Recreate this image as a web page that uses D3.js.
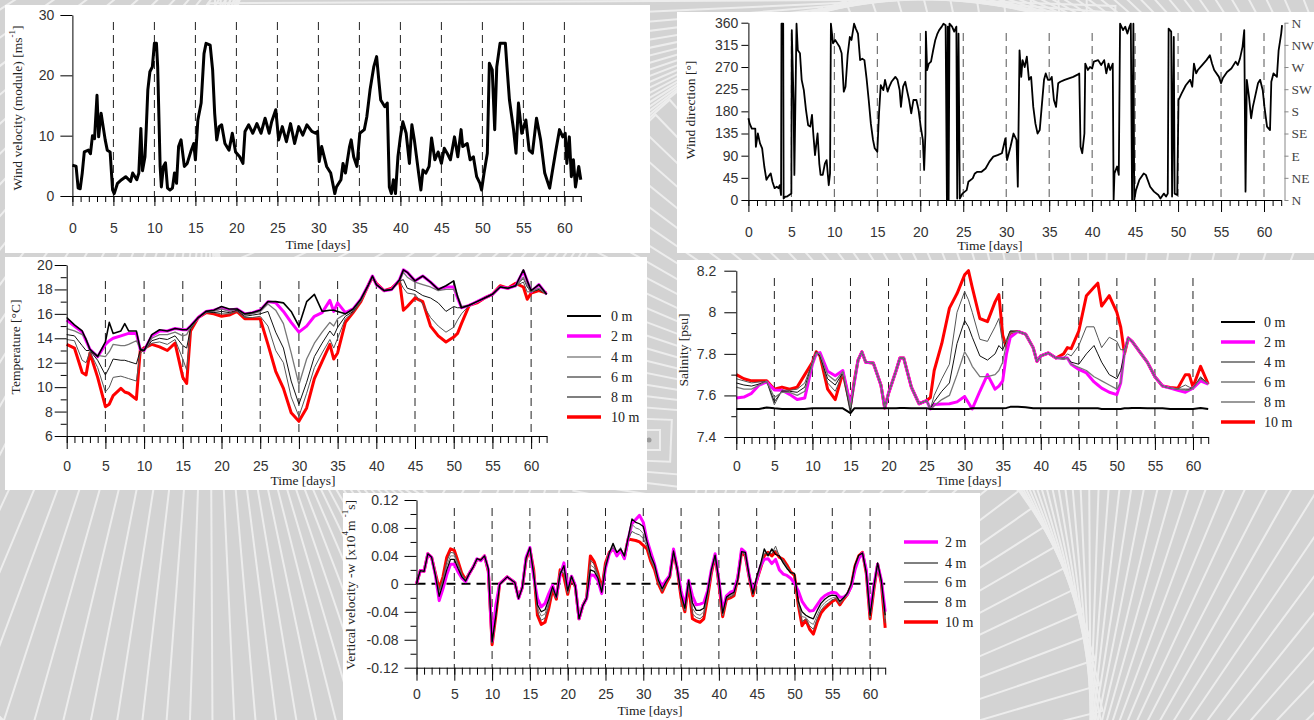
<!DOCTYPE html>
<html>
<head>
<meta charset="utf-8">
<script src="https://cdn.jsdelivr.net/npm/d3@7"></script>
<style>
  body { margin: 0; background: #d3d3d3; overflow: hidden; }
  svg { display: block; }
</style>
</head>
<body>
<svg id="fig" width="1314" height="720"></svg>
<script>
// ---------------- data ----------------
const dashDays = [5, 10, 15, 20, 25, 30, 35, 40, 45, 50, 55, 60];
const xLabelDays = [0, 5, 10, 15, 20, 25, 30, 35, 40, 45, 50, 55, 60];
const dayTicks = d3.range(0, 63);

// wind speed module [m/s]
const windT = [
  0,0.3,0.45,0.7,0.95,1.2,1.45,1.95,2.2,2.45,
  2.7,3.0,3.2,3.5,3.75,4.0,4.25,4.6,4.9,5.1,
  5.5,6.0,6.5,7.1,7.35,7.85,8.1,8.35,8.55,8.85,
  9.0,9.2,9.45,9.75,10.0,10.25,10.4,10.7,10.85,11.1,
  11.35,11.6,11.9,12.2,12.45,12.7,12.95,13.25,13.65,14.0,
  14.5,14.8,15.0,15.3,15.7,16.05,16.3,16.8,17.1,17.35,
  17.6,17.9,18.2,18.6,19.1,19.5,19.9,20.4,20.8,21.05,
  21.5,22.0,22.5,23.0,23.5,24.0,24.3,24.8,25.15,25.6,
  26.1,26.6,27.1,27.6,28.1,28.6,29.2,29.7,29.9,30.1,
  30.4,31.0,31.5,32.0,32.2,32.75,33.0,33.3,33.8,34.0,
  34.3,34.7,35.05,35.6,35.9,36.3,36.75,37.1,37.4,37.6,
  38.1,38.4,38.65,38.9,39.15,39.4,39.7,40.0,40.3,40.7,
  41.1,41.4,41.7,42.25,42.5,42.75,43.1,43.5,43.8,44.2,
  44.6,45.0,45.35,45.7,46.1,46.6,47.0,47.4,47.6,48.15,
  48.5,48.9,49.3,49.7,49.9,50.2,50.6,50.85,51.2,51.5,
  51.75,52.15,52.8,53.0,53.3,53.8,54.1,54.4,54.8,55.3,
  55.7,56.1,56.6,57.1,57.6,58.2,58.5,58.9,59.4,59.8,
  60.1,60.3,60.6,60.85,61.1,61.35,61.75,62.0];
const windV = [
  5.1,5.0,4.9,1.3,1.2,3.8,7.3,7.6,7.0,10.0,
  9.5,16.7,9.8,13.7,11.5,9.3,7.6,7.3,1.0,0.4,
  2.1,2.7,3.2,2.4,3.8,2.7,3.8,11.2,4.2,6.5,
  11.0,17.6,20.6,21.4,25.3,25.3,21.4,4.9,1.5,4.9,
  5.5,1.3,1.0,1.3,3.8,2.1,8.2,9.3,4.9,5.4,
  7.6,8.7,6.0,12.6,15.4,23.6,25.3,25.0,20.9,13.7,
  9.3,11.5,11.8,8.7,7.6,10.4,7.3,6.5,5.4,10.7,
  11.8,10.4,12.0,10.4,12.9,10.4,12.3,14.3,9.3,11.5,
  9.0,12.0,8.7,11.5,10.1,11.8,10.7,10.4,10.7,5.7,
  8.2,4.9,3.8,0.4,1.5,2.7,5.4,3.8,8.2,9.3,
  6.5,4.9,10.4,11.0,13.1,17.6,21.4,23.1,18.7,15.9,
  14.8,15.4,1.5,0.4,2.7,0.4,6.5,9.8,12.3,10.4,
  5.4,11.8,9.3,3.5,1.0,4.3,3.8,4.9,9.6,6.0,
  7.3,5.4,7.9,7.1,6.0,9.8,6.5,11.0,8.2,8.7,
  6.0,6.5,3.2,2.1,1.0,3.8,7.1,22.0,20.9,11.0,
  21.4,25.3,25.3,21.4,15.9,11.0,7.1,15.4,10.4,12.6,
  7.6,7.1,12.9,9.3,3.8,1.3,3.8,7.1,11.0,9.8,
  10.4,5.4,9.8,3.2,6.0,1.5,4.9,2.7];

// wind direction [deg]
const dirT = [
  0,0.15,0.4,0.8,0.87,1.1,1.35,1.6,1.85,2.1,
  2.3,2.6,2.8,3.05,3.3,3.5,3.65,3.8,3.85,4.05,
  4.1,4.3,4.5,4.75,5.0,5.05,5.25,5.35,5.6,5.75,
  6.0,6.2,6.45,6.7,6.95,7.2,7.4,7.55,7.75,8.05,
  8.25,8.4,8.65,8.9,9.1,9.35,9.5,9.6,9.85,10.1,
  10.35,10.6,10.85,11.1,11.3,11.55,11.8,12.0,12.3,12.5,
  12.75,13.0,13.25,13.5,13.75,14.0,14.25,14.5,14.7,15.0,
  15.2,15.4,15.7,15.9,16.2,16.4,16.65,17.1,17.35,17.6,
  17.75,18.0,18.25,18.45,18.7,18.95,19.2,19.55,19.8,20.05,
  20.3,20.45,20.6,20.65,20.8,21.0,21.25,21.5,21.75,22.0,
  22.2,22.5,22.7,22.95,23.1,23.2,23.3,23.4,23.7,23.95,
  24.2,24.3,24.45,24.6,24.9,25.4,25.6,26.1,26.35,26.6,
  27.1,27.6,28.05,28.5,29.0,29.5,29.9,30.1,30.5,30.85,
  31.2,31.35,31.55,31.75,31.9,32.15,32.4,32.65,32.9,33.15,
  33.4,33.65,33.9,34.1,34.4,34.6,34.85,35.1,35.3,35.55,
  35.8,36.05,36.3,36.8,37.3,37.8,38.25,38.5,38.65,38.85,
  39.1,39.2,39.5,39.75,40.0,40.2,40.7,41.05,41.4,41.65,
  41.9,42.1,42.4,42.5,42.6,42.9,43.1,43.25,43.6,43.85,
  44.1,44.35,44.5,44.65,44.8,44.9,45.1,45.5,46.0,46.25,
  46.75,47.2,47.7,47.95,48.35,48.6,48.8,48.9,49.2,49.3,
  49.5,49.6,49.9,50.05,50.4,50.9,51.4,51.65,51.85,52.1,
  52.3,52.8,53.3,53.7,53.95,54.2,54.75,55.0,55.2,55.7,
  56.2,56.7,56.95,57.2,57.5,57.7,57.85,58.0,58.25,58.5,
  58.7,59.0,59.3,59.55,59.85,60.05,60.35,60.7,60.85,61.1,
  61.5,61.7,62.0,62.1];
const dirV = [
  166,155,145,145,108,135,115,105,68,41,
  47,54,37,24,27,24,30,10,358,358,
  3,7,7,10,13,345,203,51,358,304,
  298,244,223,183,152,149,173,135,91,135,
  74,51,51,74,81,30,54,358,318,325,
  318,311,298,220,230,294,331,325,358,348,
  338,284,287,284,247,203,155,122,105,98,
  176,233,223,244,220,230,240,250,244,223,
  189,230,240,223,203,176,203,203,183,149,
  122,61,135,342,264,277,281,304,325,338,
  345,352,358,355,0,352,0,358,352,342,
  352,3,338,3,13,20,37,44,54,57,
  57,64,78,88,91,95,125,81,108,135,
  122,27,304,250,284,270,291,244,250,189,
  155,135,142,183,244,257,244,244,250,203,
  189,237,240,244,247,250,254,257,108,95,
  135,277,264,270,267,281,284,274,284,257,
  277,264,277,0,54,68,51,358,345,352,
  338,352,358,0,358,0,20,41,54,51,
  27,17,10,3,13,7,13,348,342,7,
  331,13,10,203,216,233,244,230,277,257,
  264,274,284,294,277,264,250,237,247,260,
  267,281,274,287,311,345,17,244,210,166,
  189,213,237,244,223,189,149,142,240,257,
  250,304,338,355];

// temperature [degC]
const tempDays = [
  0,1,2,2.5,3,4,5,5.5,
  6,7,7.5,8,9,9.5,10,
  11,12,13,14,15,15.5,16,
  17,18,19,20,21,22,23,24,25,
  26,27,28,29,30,31,32,33,34,34.5,
  35,36,37,38,39,39.5,40,41,42,43,
  43.5,44,45,46,47,48,49,50,50.5,51,
  52,53,54,55,56,57,58,59,59.5,60,61,62];
const temp0 = [
  15.7,15.1,14.6,13.9,13.1,12.5,13.7,15.3,
  14.4,14.6,15.2,14.6,14.6,13.1,13.0,
  14.3,14.7,14.6,14.8,14.7,14.7,15.0,
  15.7,16.2,16.3,16.6,16.4,16.4,16.0,16.1,16.3,
  17.0,17.0,16.9,16.2,15.0,17.0,17.6,16.2,16.3,16.3,
  16.2,16.0,16.4,17.2,18.4,19.1,18.4,17.9,18.0,18.8,
  19.6,19.4,18.7,19.1,18.6,18.0,18.3,18.7,17.4,16.5,
  16.7,17.0,17.3,17.6,18.2,18.1,18.3,19.6,18.7,17.9,18.4,17.6];
const temp2 = [
  15.5,15.0,14.5,13.8,13.1,12.5,13.5,13.8,
  14.0,14.2,14.3,14.4,14.4,13.1,13.0,
  14.2,14.6,14.6,14.8,14.7,14.7,15.0,
  15.7,16.2,16.3,16.5,16.3,16.4,16.0,16.1,16.3,
  17.0,16.9,16.2,15.3,14.5,15.0,15.8,16.1,17.1,16.2,
  16.9,16.1,16.4,17.2,18.4,19.1,18.4,17.9,18.0,18.8,
  19.6,19.4,18.7,19.1,18.6,18.0,18.2,18.2,17.3,16.5,
  16.7,17.0,17.3,17.6,18.2,18.1,18.3,19.5,18.7,17.8,18.4,17.6];
const temp4 = [
  14.8,14.6,14.3,14.0,13.0,12.6,12.5,12.9,
  13.5,13.4,13.4,13.5,13.8,13.2,13.0,
  14.0,14.3,14.3,14.5,14.2,14.3,14.9,
  15.7,16.2,16.2,16.4,16.2,16.4,15.9,16.0,16.2,
  16.8,16.3,15.2,12.8,10.2,12.3,13.6,14.5,15.3,15.0,
  15.6,16.0,16.3,17.1,18.4,19.0,18.4,17.9,18.0,18.7,
  19.4,19.0,18.6,18.4,18.2,17.9,18.0,18.0,17.5,16.6,
  16.7,17.0,17.3,17.6,18.2,18.1,18.3,19.0,18.3,17.8,18.1,17.6];
const temp6 = [
  14.3,14.2,13.4,13.0,13.0,12.2,11.0,11.6,
  12.3,12.2,12.2,12.1,11.9,13.0,13.0,
  13.8,14.0,13.9,14.2,13.4,13.2,14.8,
  15.7,16.2,16.1,16.2,16.1,16.3,15.8,15.9,16.0,
  16.2,14.5,13.2,10.5,8.6,10.4,12.5,13.6,14.6,14.2,
  14.9,15.8,16.2,17.1,18.4,19.0,18.4,17.9,18.0,18.7,
  18.8,18.1,17.9,17.5,17.3,16.9,16.2,16.6,16.5,16.5,
  16.7,17.0,17.3,17.6,18.2,18.1,18.3,18.9,18.2,17.8,18.0,17.6];
const temp8 = [
  13.9,13.8,12.2,12.0,12.9,11.6,9.6,10.0,
  10.8,10.9,10.8,10.7,10.5,12.8,13.0,
  13.6,13.7,13.5,13.9,12.3,11.4,14.7,
  15.7,16.1,16.1,16.0,16.0,16.2,15.7,15.7,15.8,
  15.0,13.0,12.0,9.2,7.6,9.5,11.6,12.8,13.9,13.2,
  14.0,15.6,16.1,17.0,18.4,19.0,18.4,17.9,18.0,18.7,
  18.1,17.7,17.6,16.8,15.7,15.0,14.5,14.9,15.5,16.0,
  16.7,17.0,17.3,17.6,18.2,18.1,18.3,18.6,17.8,17.8,18.0,17.6];
const temp10 = [
  13.5,13.2,11.2,11.0,12.8,10.8,8.4,8.6,
  9.3,9.9,9.6,9.5,9.0,13.0,13.2,
  13.5,13.3,13.0,13.6,10.8,10.3,14.6,
  15.7,16.1,16.0,15.8,15.9,16.2,15.6,15.6,15.6,
  13.5,11.3,9.9,7.9,7.2,8.3,10.7,12.1,13.5,12.3,
  12.8,15.3,16.1,17.0,18.4,19.0,18.5,17.9,18.1,18.7,
  16.3,16.6,17.3,17.0,15.0,14.2,13.7,14.1,14.4,15.2,
  16.7,16.9,17.3,17.6,18.3,18.1,18.5,18.2,17.2,17.7,17.9,17.7];

// salinity [psu]
const saltDays = [
  0,1,2,3,4,5,6,7,8,9,
  10,10.5,11,12,13,14,15,15.5,16,16.5,
  17,18,19,19.5,20,21,21.5,22,23,24,
  25,25.5,26,27,28,29,30,30.5,31,32,
  33,34,34.5,35,35.5,36,37,38,39,39.5,
  40,41,42,43,43.5,44,45,46,47,47.5,
  48,49,50,50.5,51,51.5,52,53,54,55,
  56,57,58,59,59.5,60,61,62];
const salt0 = [
  7.535,7.535,7.535,7.535,7.542,7.538,7.535,7.535,7.535,7.535,
  7.538,7.538,7.538,7.538,7.538,7.538,7.515,7.538,7.538,7.538,
  7.538,7.538,7.538,7.538,7.538,7.538,7.54,7.54,7.538,7.538,
  7.538,7.535,7.535,7.535,7.535,7.535,7.535,7.535,7.538,7.538,
  7.538,7.538,7.538,7.538,7.54,7.545,7.545,7.543,7.538,7.538,
  7.538,7.538,7.538,7.538,7.538,7.538,7.538,7.538,7.538,7.538,
  7.535,7.535,7.535,7.535,7.538,7.538,7.54,7.54,7.538,7.538,
  7.538,7.535,7.535,7.535,7.535,7.535,7.54,7.535];
const salt2 = [
  7.588,7.592,7.61,7.65,7.665,7.626,7.625,7.605,7.58,7.588,
  7.75,7.80,7.806,7.716,7.695,7.72,7.555,7.66,7.77,7.81,
  7.76,7.756,7.65,7.54,7.61,7.72,7.78,7.78,7.64,7.56,
  7.575,7.535,7.556,7.559,7.56,7.569,7.595,7.565,7.535,7.62,
  7.70,7.63,7.645,7.67,7.80,7.88,7.908,7.895,7.83,7.764,
  7.79,7.804,7.78,7.78,7.78,7.75,7.725,7.708,7.665,7.65,
  7.635,7.615,7.604,7.66,7.81,7.876,7.86,7.81,7.76,7.69,
  7.645,7.635,7.625,7.615,7.625,7.635,7.67,7.655];
const salt4 = [
  7.64,7.63,7.63,7.65,7.668,7.59,7.615,7.615,7.60,7.62,
  7.75,7.805,7.80,7.70,7.67,7.715,7.545,7.66,7.77,7.81,
  7.76,7.756,7.65,7.54,7.61,7.72,7.78,7.78,7.64,7.56,
  7.575,7.535,7.55,7.58,7.60,7.70,7.81,7.78,7.74,7.69,
  7.69,7.70,7.72,7.76,7.85,7.90,7.908,7.895,7.83,7.764,
  7.79,7.804,7.78,7.775,7.78,7.75,7.735,7.72,7.69,7.68,
  7.67,7.65,7.63,7.66,7.80,7.876,7.86,7.81,7.76,7.69,
  7.645,7.635,7.63,7.625,7.625,7.635,7.68,7.655];
const salt6 = [
  7.66,7.65,7.645,7.655,7.668,7.57,7.62,7.62,7.615,7.64,
  7.755,7.81,7.79,7.68,7.65,7.71,7.525,7.66,7.77,7.81,
  7.76,7.756,7.65,7.54,7.61,7.72,7.78,7.78,7.64,7.56,
  7.575,7.535,7.57,7.62,7.66,7.85,7.96,7.93,7.88,7.79,
  7.77,7.80,7.84,7.82,7.86,7.91,7.908,7.895,7.83,7.764,
  7.79,7.804,7.78,7.775,7.78,7.76,7.75,7.80,7.84,7.80,
  7.76,7.70,7.68,7.72,7.80,7.876,7.86,7.81,7.76,7.69,
  7.645,7.635,7.63,7.63,7.63,7.635,7.685,7.655];
const salt8 = [
  7.68,7.67,7.66,7.665,7.668,7.555,7.625,7.625,7.63,7.66,
  7.76,7.81,7.785,7.66,7.62,7.705,7.51,7.665,7.77,7.81,
  7.76,7.756,7.65,7.54,7.61,7.72,7.78,7.78,7.64,7.56,
  7.575,7.535,7.60,7.68,7.75,8.00,8.10,8.06,8.00,7.87,
  7.86,7.93,7.97,7.85,7.87,7.91,7.908,7.895,7.83,7.764,
  7.79,7.804,7.78,7.78,7.80,7.79,7.84,7.93,7.93,7.88,
  7.83,7.88,7.86,7.82,7.82,7.876,7.86,7.81,7.76,7.69,
  7.645,7.635,7.632,7.65,7.64,7.635,7.69,7.655];
const salt10 = [
  7.70,7.68,7.67,7.67,7.67,7.63,7.64,7.63,7.64,7.70,
  7.76,7.81,7.79,7.63,7.58,7.71,7.55,7.67,7.77,7.81,
  7.76,7.756,7.65,7.54,7.61,7.72,7.78,7.78,7.64,7.56,
  7.575,7.59,7.72,7.85,8.02,8.09,8.18,8.20,8.12,7.97,
  7.955,8.05,8.085,7.89,7.83,7.90,7.908,7.895,7.83,7.764,
  7.79,7.804,7.78,7.80,7.83,7.825,7.91,8.08,8.12,8.14,
  8.03,8.08,8.00,7.93,7.80,7.876,7.86,7.81,7.76,7.69,
  7.645,7.638,7.634,7.70,7.70,7.64,7.74,7.655];

// vertical velocity -w [x10^4 m-1 s]
const wDays = [
  0,0.5,1,1.5,2,2.5,3,3.5,4,4.5,
  5,5.5,6,6.5,7,7.5,8,8.5,9,9.5,
  10,10.5,11,12,12.5,13,13.5,14,14.5,15,
  15.5,16,16.5,17,17.5,18,18.5,19,19.5,20,
  20.5,21,21.5,22,22.5,23,23.5,24,24.5,25,
  25.5,26,26.5,27,27.5,28,28.5,29,29.5,30,
  30.5,31,31.5,32,32.5,33,33.5,34,34.5,35,
  35.5,36,36.5,37,37.5,38,38.5,39,39.5,40,
  40.5,41,41.5,42,42.5,43,43.5,44,44.5,45,
  45.5,46,46.5,47,47.5,48,48.5,49,49.5,50,
  50.5,51,51.5,52,52.5,53,53.5,54,54.5,55,
  55.5,56,56.5,57,57.5,58,58.5,59,59.5,60,
  60.5,61,61.5,62];
const w2 = [
  0,0.019,0.018,0.043,0.038,0.012,-0.024,-0.007,0.013,0.028,
  0.028,0.017,0.008,0.003,0.015,0.024,0.036,0.033,0.040,0.020,
  -0.082,-0.030,0.000,0.010,0.006,0.002,-0.021,-0.005,0.038,0.052,
  0.010,-0.021,-0.033,-0.028,-0.014,-0.002,-0.018,0.012,0.030,-0.008,
  0.011,-0.002,-0.050,-0.031,-0.021,0.013,0.012,0.005,-0.014,0.022,
  0.043,0.052,0.040,0.048,0.036,0.064,0.086,0.092,0.098,0.088,
  0.062,0.045,0.028,0.007,-0.004,0.005,0.012,0.050,0.022,-0.010,
  -0.031,0.005,-0.017,-0.030,-0.029,-0.027,-0.010,0.020,0.043,0.005,
  -0.038,-0.017,-0.012,-0.010,0.010,0.050,0.045,0.012,-0.010,0.005,
  0.025,0.035,0.036,0.029,0.035,0.020,0.014,0.012,0.008,0.001,
  -0.010,-0.025,-0.033,-0.039,-0.038,-0.030,-0.022,-0.017,-0.014,-0.012,
  -0.013,-0.019,-0.019,-0.015,-0.004,0.020,0.036,0.044,0.020,-0.040,
  -0.002,0.028,0.005,-0.040];
const w4 = [
  0,0.019,0.018,0.043,0.038,0.012,-0.018,0.000,0.020,0.035,
  0.035,0.022,0.010,0.004,0.015,0.024,0.036,0.034,0.040,0.022,
  -0.083,-0.045,-0.001,0.010,0.006,0.002,-0.021,-0.005,0.037,0.052,
  0.014,-0.030,-0.040,-0.037,-0.022,-0.004,-0.019,0.014,0.026,-0.010,
  0.011,-0.003,-0.050,-0.031,-0.021,0.020,0.018,0.008,-0.012,0.024,
  0.044,0.058,0.045,0.050,0.040,0.066,0.093,0.088,0.086,0.082,
  0.060,0.040,0.027,0.005,-0.007,0.003,0.011,0.047,0.021,-0.015,
  -0.035,0.005,-0.027,-0.038,-0.038,-0.035,-0.012,0.020,0.041,0.006,
  -0.042,-0.019,-0.015,-0.012,0.006,0.046,0.045,0.012,-0.014,0.010,
  0.028,0.050,0.040,0.050,0.042,0.040,0.030,0.022,0.016,0.015,
  -0.025,-0.040,-0.045,-0.048,-0.050,-0.038,-0.028,-0.022,-0.018,-0.016,
  -0.017,-0.025,-0.020,-0.013,0.000,0.027,0.041,0.044,0.016,-0.045,
  -0.004,0.030,0.004,-0.045];
const w6 = [
  0,0.019,0.018,0.043,0.038,0.013,-0.013,0.004,0.026,0.040,
  0.040,0.026,0.012,0.005,0.015,0.024,0.036,0.034,0.040,0.020,
  -0.084,-0.045,-0.001,0.010,0.006,0.002,-0.020,-0.005,0.036,0.051,
  0.016,-0.035,-0.046,-0.043,-0.027,-0.005,-0.020,0.016,0.020,-0.012,
  0.010,-0.003,-0.050,-0.031,-0.020,0.027,0.023,0.010,-0.010,0.026,
  0.044,0.055,0.045,0.052,0.040,0.065,0.085,0.080,0.078,0.072,
  0.056,0.036,0.024,0.003,-0.009,0.002,0.011,0.046,0.021,-0.017,
  -0.037,0.003,-0.035,-0.043,-0.045,-0.040,-0.015,0.018,0.041,0.004,
  -0.044,-0.020,-0.017,-0.014,0.007,0.046,0.043,0.011,-0.015,0.008,
  0.026,0.047,0.042,0.047,0.048,0.040,0.032,0.024,0.016,0.014,
  -0.028,-0.047,-0.048,-0.055,-0.058,-0.045,-0.033,-0.027,-0.023,-0.020,
  -0.019,-0.027,-0.021,-0.014,-0.001,0.026,0.040,0.044,0.016,-0.047,
  -0.006,0.029,0.002,-0.050];
const w8 = [
  0,0.019,0.018,0.043,0.038,0.014,-0.010,0.007,0.032,0.045,
  0.044,0.029,0.014,0.005,0.015,0.024,0.035,0.034,0.040,0.019,
  -0.085,-0.045,0.000,0.010,0.006,0.002,-0.020,-0.005,0.035,0.050,
  0.018,-0.040,-0.052,-0.049,-0.031,-0.007,-0.021,0.018,0.015,-0.014,
  0.010,-0.004,-0.050,-0.031,-0.020,0.034,0.028,0.013,-0.009,0.028,
  0.045,0.052,0.045,0.050,0.039,0.064,0.075,0.072,0.070,0.065,
  0.053,0.034,0.022,0.001,-0.011,0.001,0.010,0.045,0.020,-0.019,
  -0.039,0.001,-0.043,-0.048,-0.050,-0.045,-0.018,0.016,0.040,0.002,
  -0.046,-0.021,-0.019,-0.016,0.008,0.046,0.041,0.010,-0.016,0.006,
  0.024,0.043,0.044,0.043,0.054,0.039,0.034,0.025,0.017,0.013,
  -0.029,-0.054,-0.050,-0.060,-0.065,-0.050,-0.038,-0.031,-0.027,-0.023,
  -0.021,-0.029,-0.022,-0.015,-0.002,0.025,0.040,0.045,0.015,-0.049,
  -0.007,0.028,0.001,-0.056];
const w10 = [
  0,0.019,0.018,0.043,0.038,0.015,-0.007,0.010,0.038,0.050,
  0.048,0.032,0.015,0.006,0.015,0.024,0.035,0.034,0.040,0.018,
  -0.087,-0.045,0.000,0.010,0.006,0.002,-0.020,-0.005,0.035,0.050,
  0.020,-0.045,-0.058,-0.055,-0.035,-0.008,-0.022,0.020,0.010,-0.015,
  0.010,-0.004,-0.050,-0.031,-0.020,0.040,0.032,0.015,-0.008,0.030,
  0.045,0.050,0.044,0.047,0.038,0.064,0.063,0.062,0.060,0.055,
  0.050,0.032,0.020,0.000,-0.012,0.000,0.010,0.045,0.020,-0.020,
  -0.040,0.000,-0.050,-0.053,-0.055,-0.050,-0.020,0.015,0.040,0.000,
  -0.047,-0.022,-0.020,-0.017,0.008,0.045,0.040,0.010,-0.017,0.005,
  0.022,0.040,0.045,0.040,0.046,0.038,0.035,0.027,0.017,0.012,
  -0.030,-0.060,-0.052,-0.065,-0.072,-0.055,-0.042,-0.035,-0.030,-0.025,
  -0.022,-0.030,-0.022,-0.015,-0.003,0.025,0.040,0.045,0.015,-0.050,
  -0.008,0.028,0.000,-0.063];

const compass = ["N", "NE", "E", "SE", "S", "SW", "W", "NW", "N"];

// ---------------- drawing ----------------
const svg = d3.select("#fig");
const serif = "'Liberation Serif','Times New Roman',serif";
const sans = "'Liberation Sans',Arial,sans-serif";

// background: spiral of nested squares
svg.append("rect").attr("width", 1314).attr("height", 720).attr("fill", "#d3d3d3");
svg.append("g").attr("transform", "translate(650,440)")
  .selectAll("rect").data(d3.range(0, 80)).join("rect")
  .attr("x", i => -(10 + i * 11)).attr("y", i => -(10 + i * 11))
  .attr("width", i => 20 + i * 22).attr("height", i => 20 + i * 22)
  .attr("transform", i => `rotate(${i * 2.3})`)
  .attr("fill", "none").attr("stroke", "#ededed").attr("stroke-width", 2);
svg.append("circle").attr("cx", 649).attr("cy", 440).attr("r", 2.5).attr("fill", "#9a9a9a");

function styleText(sel, fam, size, fill) {
  sel.selectAll("text").attr("font-family", fam).attr("font-size", size).attr("fill", fill);
}

function drawPanel(c) {
  const g = svg.append("g");
  g.append("rect").attr("x", c.box[0]).attr("y", c.box[1])
    .attr("width", c.box[2]).attr("height", c.box[3]).attr("fill", "#fff");

  const x = d3.scaleLinear().domain([0, 62]).range(c.xr);
  const y = d3.scaleLinear().domain(c.yd).range(c.yr);
  const yb = y(c.yd[0]);

  g.append("g").selectAll("line").data(dashDays).join("line")
    .attr("x1", d => x(d)).attr("x2", d => x(d))
    .attr("y1", c.dashTop).attr("y2", yb)
    .attr("stroke", c.dashColor || "#222").attr("stroke-width", 1)
    .attr("stroke-dasharray", "8,5");

  if (c.zeroLine) {
    g.append("line").attr("x1", x(0)).attr("x2", x(62)).attr("y1", y(0)).attr("y2", y(0))
      .attr("stroke", "#000").attr("stroke-width", 2).attr("stroke-dasharray", "9,6");
  }

  const line = d3.line().x(d => x(d[0])).y(d => y(d[1]));
  c.series.forEach(s => {
    g.append("path").datum(d3.zip(s.t, s.v)).attr("d", line)
      .attr("fill", "none").attr("stroke", s.color).attr("stroke-width", s.w)
      .attr("stroke-linejoin", "round");
  });

  // x axis
  g.append("g").attr("transform", `translate(0,${yb})`)
    .call(d3.axisBottom(x).tickValues(dayTicks).tickSize(c.xMinorLen).tickFormat("").tickSizeOuter(0));
  g.append("g").attr("transform", `translate(0,${yb})`)
    .call(d3.axisBottom(x).tickValues(xLabelDays).tickSize(c.xMajorLen).tickPadding(c.xPad).tickFormat(d3.format("d")))
    .call(a => a.select(".domain").remove())
    .call(a => styleText(a, sans, 14, "#333"));

  // y axis
  const ax0 = x(0);
  if (c.yMinor) {
    g.append("g").attr("transform", `translate(${ax0},0)`)
      .call(d3.axisLeft(y).tickValues(c.yMinor).tickSize(c.yMinorLen).tickFormat(""))
      .call(a => a.select(".domain").remove());
  }
  g.append("g").attr("transform", `translate(${ax0},0)`)
    .call(d3.axisLeft(y).tickValues(c.yMajor).tickSize(c.yMajorLen).tickPadding(c.yPad)
      .tickFormat(c.yFmt).tickSizeOuter(0))
    .call(a => styleText(a, sans, 14, "#333"));

  g.append("text").attr("x", c.xTitle[0]).attr("y", c.xTitle[1]).attr("text-anchor", "middle")
    .attr("font-family", serif).attr("font-size", 13.5).attr("fill", "#222").text("Time [days]");

  const yt = g.append("text").attr("transform", `translate(${c.yTitle[0]},${c.yTitle[1]}) rotate(-90)`)
    .attr("text-anchor", "middle").attr("dominant-baseline", "central")
    .attr("font-family", serif).attr("font-size", 13.5).attr("fill", "#222");
  c.yLabel.forEach(p => {
    const ts = yt.append("tspan").text(p[0]);
    if (p[1]) ts.attr("baseline-shift", "super").attr("font-size", 9);
  });

  if (c.legend) {
    const lg = g.append("g");
    c.legend.items.forEach((it, i) => {
      const ly = c.legend.ys[i];
      lg.append("line").attr("x1", c.legend.x1).attr("x2", c.legend.x2)
        .attr("y1", ly).attr("y2", ly).attr("stroke", it.color).attr("stroke-width", it.w);
      lg.append("text").attr("x", c.legend.tx).attr("y", ly).attr("dominant-baseline", "central")
        .attr("font-family", serif).attr("font-size", 14).attr("fill", "#222").text(it.name);
    });
  }
  return { g, x, y };
}

const intFmt = d3.format("d");

// Panel 1: wind velocity
drawPanel({
  box: [5, 5, 645, 248], xr: [72.4, 580.8], yd: [0, 30], yr: [196, 15], dashTop: 22,
  yMajor: [0, 10, 20, 30], yMajorLen: 12, yPad: 6, yFmt: intFmt,
  xMinorLen: 6, xMajorLen: 10, xPad: 17,
  xTitle: [318, 249], yTitle: [17, 108],
  yLabel: [["Wind velocity (module) [ms"], ["-1", true], ["]"]],
  series: [{ t: windT, v: windV, color: "#000", w: 3 }]
});

// Panel 2: wind direction
const p2 = drawPanel({
  box: [677, 12, 637, 241], xr: [748.4, 1281.2], yd: [0, 360], yr: [200, 22.7], dashTop: 33,
  dashColor: "#555",
  yMajor: d3.range(0, 361, 45), yMajorLen: 7, yPad: 3, yFmt: intFmt,
  xMinorLen: 6, xMajorLen: 12, xPad: 15,
  xTitle: [990, 250], yTitle: [690, 110],
  yLabel: [["Wind direction [°]"]],
  series: [{ t: dirT, v: dirV, color: "#000", w: 1.8 }]
});
p2.g.append("g").attr("transform", "translate(1284.5,0)")
  .call(d3.axisRight(p2.y).tickValues(d3.range(0, 361, 45)).tickSize(4).tickPadding(3)
    .tickFormat((d, i) => compass[i]).tickSizeOuter(0))
  .call(a => a.selectAll("line,path").attr("stroke", "#888"))
  .call(a => styleText(a, serif, 13.5, "#444"));

// Panel 3: temperature
drawPanel({
  box: [5, 257, 642, 233], xr: [66.7, 546.6], yd: [6, 20], yr: [436, 265], dashTop: 281,
  yMajor: d3.range(6, 21, 2), yMinor: d3.range(7, 20, 2), yMajorLen: 12, yMinorLen: 6, yPad: 2,
  yFmt: intFmt,
  xMinorLen: 7, xMajorLen: 13, xPad: 12,
  xTitle: [303, 485], yTitle: [15, 347],
  yLabel: [["Temperature [°C]"]],
  series: [
    { t: tempDays, v: temp10, color: "#ff0000", w: 3 },
    { t: tempDays, v: temp2, color: "#ff00ff", w: 3 },
    { t: tempDays, v: temp8, color: "#555", w: 1 },
    { t: tempDays, v: temp6, color: "#111", w: 1 },
    { t: tempDays, v: temp4, color: "#777", w: 1.3 },
    { t: tempDays, v: temp0, color: "#000", w: 1.6 }
  ],
  legend: {
    x1: 567, x2: 601, tx: 611, ys: [316, 336, 357, 377, 397, 417],
    items: [
      { name: "0 m", color: "#000", w: 2 },
      { name: "2 m", color: "#ff00ff", w: 3.5 },
      { name: "4 m", color: "#888", w: 1.6 },
      { name: "6 m", color: "#111", w: 1 },
      { name: "8 m", color: "#555", w: 1.3 },
      { name: "10 m", color: "#ff0000", w: 3.5 }
    ]
  }
});

// Panel 4: salinity
drawPanel({
  box: [677, 260, 637, 230], xr: [736.3, 1208.2], yd: [7.4, 8.2], yr: [437, 270.7], dashTop: 278,
  yMajor: [7.4, 7.6, 7.8, 8.0, 8.2], yMinor: [7.5, 7.7, 7.9, 8.1], yMajorLen: 12, yMinorLen: 5, yPad: 8,
  yFmt: d => String(+d.toFixed(1)),
  xMinorLen: 7, xMajorLen: 13, xPad: 11,
  xTitle: [969, 485], yTitle: [683, 350],
  yLabel: [["Salinity [psu]"]],
  series: [
    { t: saltDays, v: salt10, color: "#ff0000", w: 3 },
    { t: saltDays, v: salt2, color: "#ff00ff", w: 3 },
    { t: saltDays, v: salt8, color: "#555", w: 1 },
    { t: saltDays, v: salt6, color: "#111", w: 1 },
    { t: saltDays, v: salt4, color: "#777", w: 1.3 },
    { t: saltDays, v: salt0, color: "#000", w: 2 }
  ],
  legend: {
    x1: 1221, x2: 1255, tx: 1264, ys: [322, 342, 362, 382, 402, 422],
    items: [
      { name: "0 m", color: "#000", w: 2.2 },
      { name: "2 m", color: "#ff00ff", w: 3.5 },
      { name: "4 m", color: "#111", w: 1 },
      { name: "6 m", color: "#333", w: 1 },
      { name: "8 m", color: "#777", w: 1.6 },
      { name: "10 m", color: "#ff0000", w: 3.5 }
    ]
  }
});

// Panel 5: vertical velocity
drawPanel({
  box: [343, 493, 637, 227], xr: [416.5, 885.2], yd: [-0.12, 0.12], yr: [667.7, 500], dashTop: 508,
  zeroLine: true,
  yMajor: [-0.12, -0.08, -0.04, 0, 0.04, 0.08, 0.12],
  yMinor: [-0.1, -0.06, -0.02, 0.02, 0.06, 0.1], yMajorLen: 12, yMinorLen: 6, yPad: 6,
  yFmt: d => Math.abs(d) < 1e-9 ? "0" : d.toFixed(2),
  xMinorLen: 7, xMajorLen: 13, xPad: 8,
  xTitle: [650, 715], yTitle: [350, 585],
  yLabel: [["Vertical velocity -w [x10"], ["4", true], ["m "], ["-1", true], ["s]"]],
  series: [
    { t: wDays, v: w10, color: "#ff0000", w: 3 },
    { t: wDays, v: w2, color: "#ff00ff", w: 3 },
    { t: wDays, v: w8, color: "#555", w: 1 },
    { t: wDays, v: w6, color: "#777", w: 1 },
    { t: wDays, v: w4, color: "#000", w: 1.3 }
  ],
  legend: {
    x1: 904, x2: 938, tx: 945, ys: [542, 563, 582, 602, 622],
    items: [
      { name: "2 m", color: "#ff00ff", w: 3.5 },
      { name: "4 m", color: "#000", w: 1 },
      { name: "6 m", color: "#666", w: 1.3 },
      { name: "8 m", color: "#444", w: 1.3 },
      { name: "10 m", color: "#ff0000", w: 3.5 }
    ]
  }
});
</script>
</body>
</html>
